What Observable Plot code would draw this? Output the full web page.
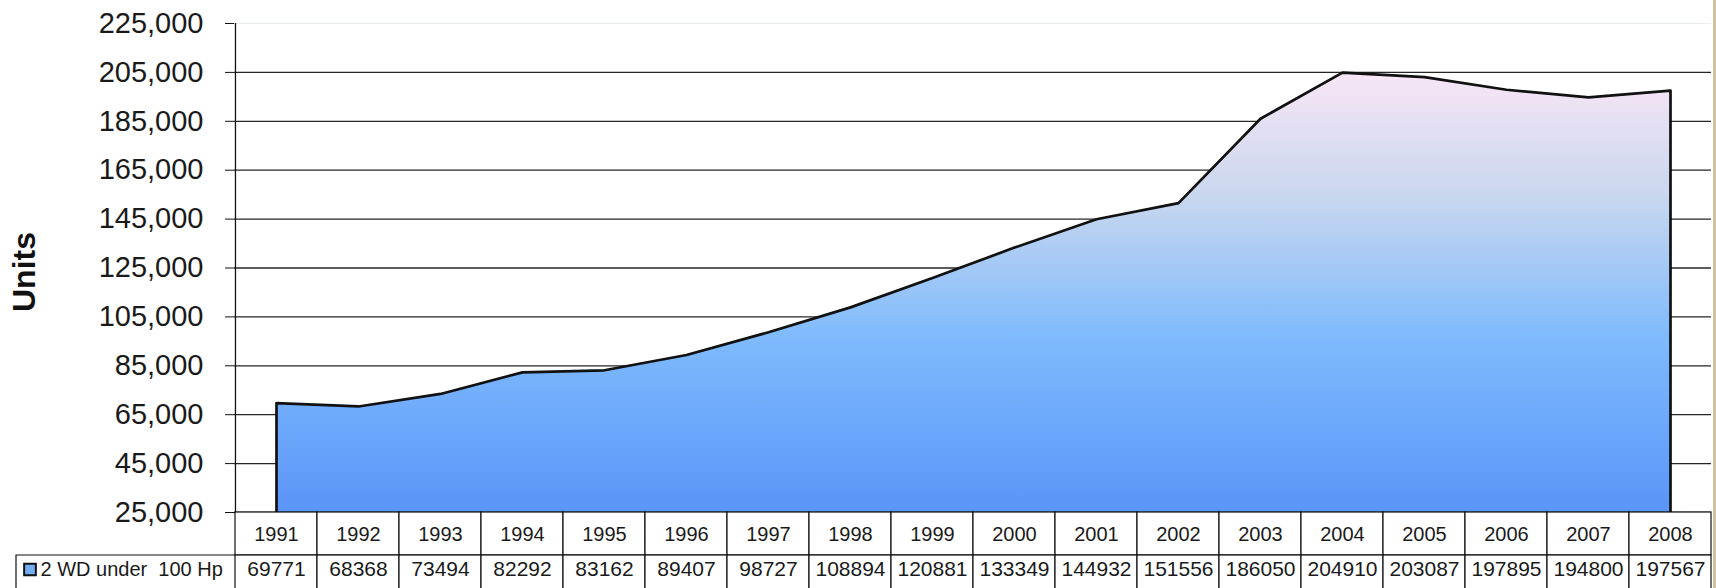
<!DOCTYPE html>
<html>
<head>
<meta charset="utf-8">
<script src="https://cdn.jsdelivr.net/npm/d3@7"></script>
<script src="https://cdn.jsdelivr.net/npm/@observablehq/plot@0.6"></script>
<style>
  html, body { margin: 0; padding: 0; background: #ffffff; }
  #chart { position: relative; width: 1716px; height: 588px; overflow: hidden; }
  #edge { position: absolute; right: 0; top: 0; width: 3px; height: 588px; background: #d2c29a; }
</style>
</head>
<body>
<div id="chart"><div id="edge"></div></div>
<script>
// ---- data ----
const years = ["1991","1992","1993","1994","1995","1996","1997","1998","1999","2000","2001","2002","2003","2004","2005","2006","2007","2008"];
const units = [69771, 68368, 73494, 82292, 83162, 89407, 98727, 108894, 120881, 133349, 144932, 151556, 186050, 204910, 203087, 197895, 194800, 197567];
const seriesLabel = "2 WD under  100 Hp";
const yTitle = "Units";
const yTicks = [25000, 45000, 65000, 85000, 105000, 125000, 145000, 165000, 185000, 205000, 225000];
const yDomain = [25000, 225000];

// ---- layout ----
const W = 1716, H = 588;
const mL = 234, mR = 5, mT = 23, mB = 76;
const bw = (W - mL - mR) / years.length;
const rowH = 43;
const labelCellW = 219;
const FONT = "'Liberation Sans', Arial, Helvetica, sans-serif";

const data = years.map((y, i) => ({year: y, units: units[i]}));
const base = yDomain[0];
const outline = [
  {year: years[0], units: base},
  ...data,
  {year: years[years.length - 1], units: base}
];

const gradientDefs = (index, scales) => {
  const defs = d3.create("svg:defs");
  const g = defs.append("linearGradient")
    .attr("id", "areaGrad")
    .attr("gradientUnits", "userSpaceOnUse")
    .attr("x1", 0).attr("x2", 0)
    .attr("y1", scales.y(d3.max(units)))
    .attr("y2", scales.y(yDomain[0]));
  [[0, "#f8e6f6"], [0.28, "#c9d7ef"], [0.6, "#7fbbfd"], [1, "#5a95f8"]].forEach(([o, c]) =>
    g.append("stop").attr("offset", o).attr("stop-color", c));
  return defs.node();
};

// label cell of the data table (left of the first value cell)
const labelCell = (index, scales, values, dims) => {
  const x0 = scales.x(years[0]);
  const top = scales.y(base) + rowH;
  const g = d3.create("svg:g");
  g.append("path")
    .attr("d", `M${x0},${top}H${x0 - labelCellW}V${dims.height + 4}`)
    .attr("fill", "none").attr("stroke", "#111").attr("stroke-width", 1.2);
  return g.node();
};

const chart = Plot.plot({
  width: W,
  height: H,
  marginLeft: mL,
  marginRight: mR,
  marginTop: mT,
  marginBottom: mB,
  style: {fontFamily: FONT, background: "#ffffff", color: "#111", overflow: "visible"},
  x: {type: "band", domain: years, padding: 0, axis: null},
  y: {domain: yDomain, axis: null},
  marks: [
    gradientDefs,
    // faint top gridline
    Plot.gridY([225000], {stroke: "#e8eef0", strokeOpacity: 1, strokeWidth: 1}),
    // gridlines
    Plot.gridY(yTicks.filter(t => t > yDomain[0] && t < yDomain[1]), {stroke: "#262626", strokeOpacity: 1, strokeWidth: 1.3}),
    // area
    Plot.areaY(data, {x: "year", y1: base, y2: "units", fill: "url(#areaGrad)", curve: "linear"}),
    Plot.line(outline, {x: "year", y: "units", stroke: "#111", strokeWidth: 2.7, curve: "linear", strokeLinejoin: "round"}),
    // y axis
    Plot.axisY(yTicks, {label: null, tickFormat: d3.format(","), tickSize: 9, tickPadding: 22, fontSize: 29, stroke: "#111", fill: "#1a1a1a"}),
    Plot.ruleX([years[0]], {dx: -bw / 2, stroke: "#111", strokeWidth: 1.3}),
    Plot.ruleY([base], {stroke: "#111", strokeWidth: 1.3}),
    Plot.text([yTitle], {frameAnchor: "left", rotate: -90, dx: -210, dy: 44, fontSize: 32, fontWeight: "bold", fill: "#111"}),
    // data table: year row
    Plot.barY(years, {x: d => d, y1: base, y2: base, insetBottom: -rowH, fill: "white", stroke: "#111", strokeWidth: 1.2}),
    Plot.text(years, {x: d => d, y: base, dy: 22, fontSize: 20, fill: "#1a1a1a"}),
    // data table: value row
    labelCell,
    Plot.barY(years, {x: d => d, y1: base, y2: base, insetTop: rowH, insetBottom: -(mB + 6), fill: "white", stroke: "#111", strokeWidth: 1.2}),
    Plot.text(units, {x: (d, i) => years[i], y: base, dy: 57, fontSize: 21, fill: "#1a1a1a", text: d => String(d)}),
    Plot.dot([seriesLabel], {frameAnchor: "bottom-left", dx: -204.5, dy: 57, symbol: "square", r: 6.6, fill: "#74aef2", stroke: "#111", strokeWidth: 2}),
    Plot.text([seriesLabel], {frameAnchor: "bottom-left", lineAnchor: "middle", dx: -194, dy: 57, textAnchor: "start", fontSize: 20, fill: "#1a1a1a", text: d => d})
  ]
});
chart.querySelectorAll("text").forEach(t => t.setAttribute("xml:space", "preserve"));
document.getElementById("chart").insertBefore(chart, document.getElementById("edge"));
</script>
</body>
</html>
